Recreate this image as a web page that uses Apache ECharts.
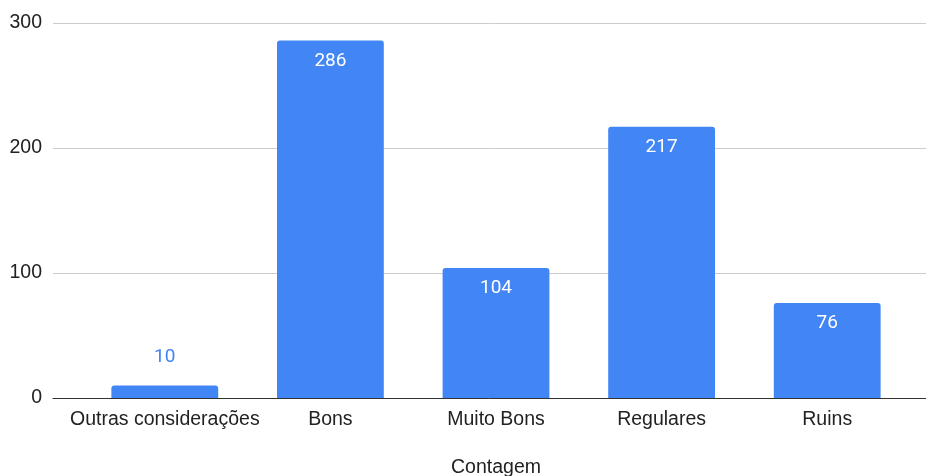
<!DOCTYPE html>
<html>
<head>
<meta charset="utf-8">
<style>
  html, body { margin: 0; padding: 0; background: #fff; }
  #chart { width: 926px; height: 476px; }
</style>
<script src="https://cdn.jsdelivr.net/npm/echarts@6/dist/echarts.min.js"></script>
</head>
<body>
<div id="chart"></div>
<script>
// Categories and counts
const categories = ['Outras considerações', 'Bons', 'Muito Bons', 'Regulares', 'Ruins'];
const counts = [10, 286, 104, 217, 76];
const yTicks = [0, 100, 200, 300];
const axisTitle = 'Contagem';

const blue = '#4285F4';
const textFont = '"Liberation Sans", Arial, sans-serif';

// Small bars get their label above, tall bars inside the top edge
const seriesData = counts.map(v => {
  if (v < 40) {
    return {
      value: v,
      label: { position: 'top', distance: 19, color: blue }
    };
  }
  return { value: v };
});

const chart = echarts.init(document.getElementById('chart'), null, { renderer: 'canvas' });

chart.setOption({
  animation: false,
  backgroundColor: '#fff',
  grid: [
    // full-width frame: gridlines, y labels and baseline
    { left: 53, right: 0, top: 23, bottom: 78, containLabel: false, outerBoundsMode: 'none' },
    // inset area holding the bars
    { left: 82, right: 16, top: 23, bottom: 78, containLabel: false, outerBoundsMode: 'none' }
  ],
  xAxis: [
    {
      gridIndex: 0, type: 'value', min: 0, max: 1,
      axisLine: { show: true, lineStyle: { color: '#333', width: 1 } },
      axisTick: { show: false }, axisLabel: { show: false }, splitLine: { show: false }
    },
    {
      gridIndex: 1, type: 'category', data: categories,
      axisLine: { show: false }, axisTick: { show: false },
      axisLabel: { color: '#222', fontSize: 19.5, fontFamily: textFont, margin: 12, interval: 0 },
      name: axisTitle, nameLocation: 'middle', nameGap: 60,
      nameTextStyle: { color: '#222', fontSize: 19.5, fontFamily: textFont }
    }
  ],
  yAxis: [
    {
      gridIndex: 0, type: 'value', min: yTicks[0], max: yTicks[yTicks.length - 1], interval: 100,
      axisLine: { show: false }, axisTick: { show: false },
      axisLabel: { color: '#222', fontSize: 19.5, fontFamily: textFont, margin: 11 },
      splitLine: { show: true, lineStyle: { color: '#cccccc', width: 1 } }
    },
    {
      gridIndex: 1, type: 'value', min: yTicks[0], max: yTicks[yTicks.length - 1], interval: 100,
      show: false, splitLine: { show: false }
    }
  ],
  series: [
    {
      type: 'bar',
      xAxisIndex: 1, yAxisIndex: 1,
      data: seriesData,
      barWidth: '64.5%',
      itemStyle: { color: blue, borderRadius: [3, 3, 0, 0] },
      label: {
        show: true,
        position: 'insideTop',
        distance: 11,
        color: '#ffffff',
        fontSize: 19,
        fontFamily: 'Roboto, sans-serif'
      }
    }
  ]
});
</script>
</body>
</html>
